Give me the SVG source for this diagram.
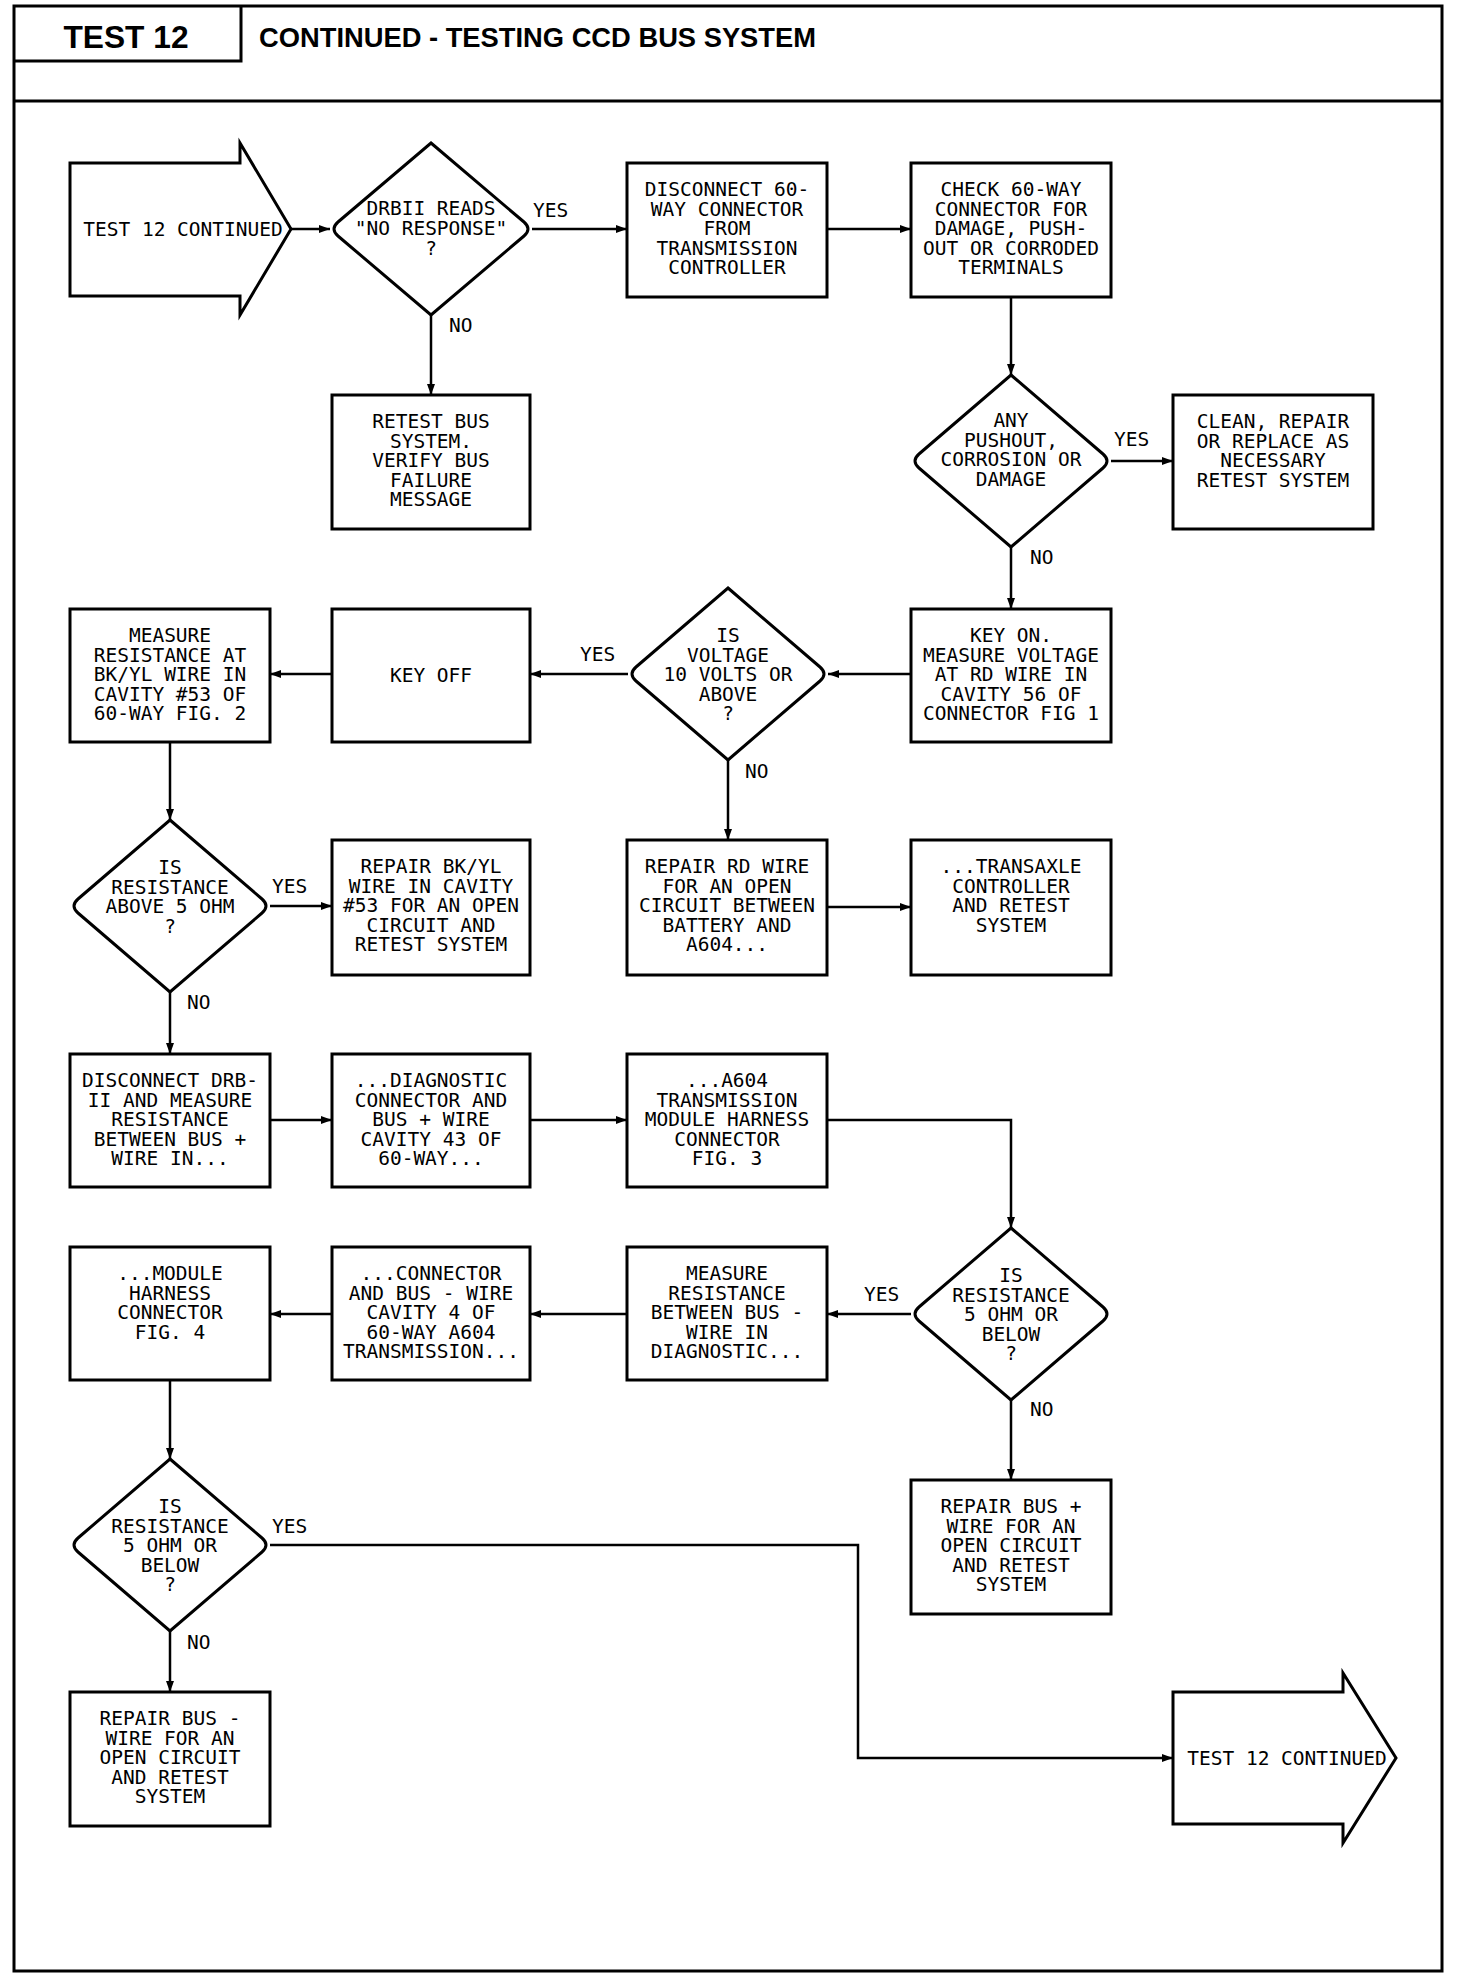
<svg xmlns="http://www.w3.org/2000/svg" width="1472" height="1984" viewBox="0 0 1472 1984">
<style>
.frame{fill:none;stroke:#000;stroke-width:3}
.box{fill:#fff;stroke:#000;stroke-width:3}
.ln{fill:none;stroke:#000;stroke-width:2.5;marker-end:url(#ah)}
.t{font-family:"DejaVu Sans Mono","Liberation Mono",monospace;font-size:19.5px;fill:#000;text-anchor:middle}
.lb{font-family:"DejaVu Sans Mono","Liberation Mono",monospace;font-size:19.5px;fill:#000}
.hd{font-family:"Liberation Sans",Arial,sans-serif;font-weight:bold;fill:#000}
</style>
<defs>
<marker id="ah" markerUnits="userSpaceOnUse" markerWidth="12" markerHeight="10" refX="11" refY="4" orient="auto">
<path d="M0,0 L11,4 L0,8 Z" fill="#000"/>
</marker>
</defs>
<rect width="1472" height="1984" fill="#fff"/>
<g id="header">
<rect class="frame" x="14" y="6" width="1428" height="1965"/>
<path class="frame" d="M241,6 V61 H14"/>
<line class="frame" x1="14" y1="101" x2="1442" y2="101"/>
<text class="hd" x="126" y="48" font-size="32" text-anchor="middle" textLength="125" lengthAdjust="spacingAndGlyphs">TEST 12</text>
<text class="hd" x="259" y="47" font-size="28" textLength="557" lengthAdjust="spacingAndGlyphs">CONTINUED - TESTING CCD BUS SYSTEM</text>
</g>
<g id="connectors">
<path class="ln" d="M291,229 H330"/>
<path class="ln" d="M532,229 H627"/>
<path class="ln" d="M827,229 H911"/>
<path class="ln" d="M431,315 V395"/>
<path class="ln" d="M1011,297 V375"/>
<path class="ln" d="M1111,461 H1173"/>
<path class="ln" d="M1011,547 V609"/>
<path class="ln" d="M911,674 H828"/>
<path class="ln" d="M628,674 H530"/>
<path class="ln" d="M332,674 H270"/>
<path class="ln" d="M728,760 V840"/>
<path class="ln" d="M827,907 H911"/>
<path class="ln" d="M170,742 V820"/>
<path class="ln" d="M270,906 H332"/>
<path class="ln" d="M170,992 V1054"/>
<path class="ln" d="M270,1120 H332"/>
<path class="ln" d="M530,1120 H627"/>
<path class="ln" d="M827,1120 H1011 V1228"/>
<path class="ln" d="M911,1314 H827"/>
<path class="ln" d="M627,1314 H530"/>
<path class="ln" d="M332,1314 H270"/>
<path class="ln" d="M1011,1400 V1480"/>
<path class="ln" d="M170,1380 V1459"/>
<path class="ln" d="M270,1545 H858 V1758 H1173"/>
<path class="ln" d="M170,1631 V1692"/>
<text class="lb" x="533" y="217">YES</text>
<text class="lb" x="449" y="332">NO</text>
<text class="lb" x="1114" y="446">YES</text>
<text class="lb" x="1030" y="564">NO</text>
<text class="lb" x="580" y="661">YES</text>
<text class="lb" x="745" y="778">NO</text>
<text class="lb" x="272" y="893">YES</text>
<text class="lb" x="187" y="1009">NO</text>
<text class="lb" x="864" y="1301">YES</text>
<text class="lb" x="1030" y="1416">NO</text>
<text class="lb" x="272" y="1533">YES</text>
<text class="lb" x="187" y="1649">NO</text>
</g>
<g id="n-start">
<polygon class="box" points="70,163 240,163 240,143 291,229 240,315 240,296 70,296"/>
<text class="t" x="183" y="236">TEST 12 CONTINUED</text>
</g>
<g id="n-d1">
<path class="box" d="M431,143 L524,222 Q532,229 524,236 L431,315 L338,236 Q330,229 338,222 Z"/>
<text class="t" x="431" y="215" font-size="19">DRBII READS</text>
<text class="t" x="431" y="235" font-size="19">"NO RESPONSE"</text>
<text class="t" x="431" y="255" font-size="19">?</text>
</g>
<g id="n-disconnect60">
<rect class="box" x="627" y="163" width="200" height="134"/>
<text class="t" x="727" y="196">DISCONNECT 60-</text>
<text class="t" x="727" y="215.6">WAY CONNECTOR</text>
<text class="t" x="727" y="235.2">FROM</text>
<text class="t" x="727" y="254.8">TRANSMISSION</text>
<text class="t" x="727" y="274.4">CONTROLLER</text>
</g>
<g id="n-check">
<rect class="box" x="911" y="163" width="200" height="134"/>
<text class="t" x="1011" y="196">CHECK 60-WAY</text>
<text class="t" x="1011" y="215.6">CONNECTOR FOR</text>
<text class="t" x="1011" y="235.2">DAMAGE, PUSH-</text>
<text class="t" x="1011" y="254.8">OUT OR CORRODED</text>
<text class="t" x="1011" y="274.4">TERMINALS</text>
</g>
<g id="n-retest">
<rect class="box" x="332" y="395" width="198" height="134"/>
<text class="t" x="431" y="428">RETEST BUS</text>
<text class="t" x="431" y="447.6">SYSTEM.</text>
<text class="t" x="431" y="467.2">VERIFY BUS</text>
<text class="t" x="431" y="486.8">FAILURE</text>
<text class="t" x="431" y="506.4">MESSAGE</text>
</g>
<g id="n-d2">
<path class="box" d="M1011,375 L1103,454 Q1111,461 1103,468 L1011,547 L919,468 Q911,461 919,454 Z"/>
<text class="t" x="1011" y="427">ANY</text>
<text class="t" x="1011" y="446.6">PUSHOUT,</text>
<text class="t" x="1011" y="466.2">CORROSION OR</text>
<text class="t" x="1011" y="485.8">DAMAGE</text>
</g>
<g id="n-clean">
<rect class="box" x="1173" y="395" width="200" height="134"/>
<text class="t" x="1273" y="428">CLEAN, REPAIR</text>
<text class="t" x="1273" y="447.6">OR REPLACE AS</text>
<text class="t" x="1273" y="467.2">NECESSARY</text>
<text class="t" x="1273" y="486.8">RETEST SYSTEM</text>
</g>
<g id="n-keyon">
<rect class="box" x="911" y="609" width="200" height="133"/>
<text class="t" x="1011" y="642">KEY ON.</text>
<text class="t" x="1011" y="661.6">MEASURE VOLTAGE</text>
<text class="t" x="1011" y="681.2">AT RD WIRE IN</text>
<text class="t" x="1011" y="700.8">CAVITY 56 OF</text>
<text class="t" x="1011" y="720.4">CONNECTOR FIG 1</text>
</g>
<g id="n-d3">
<path class="box" d="M728,588 L820,667 Q828,674 820,681 L728,760 L636,681 Q628,674 636,667 Z"/>
<text class="t" x="728" y="642">IS</text>
<text class="t" x="728" y="661.6">VOLTAGE</text>
<text class="t" x="728" y="681.2">10 VOLTS OR</text>
<text class="t" x="728" y="700.8">ABOVE</text>
<text class="t" x="728" y="720.4">?</text>
</g>
<g id="n-keyoff">
<rect class="box" x="332" y="609" width="198" height="133"/>
<text class="t" x="431" y="682">KEY OFF</text>
</g>
<g id="n-measure53">
<rect class="box" x="70" y="609" width="200" height="133"/>
<text class="t" x="170" y="642">MEASURE</text>
<text class="t" x="170" y="661.6">RESISTANCE AT</text>
<text class="t" x="170" y="681.2">BK/YL WIRE IN</text>
<text class="t" x="170" y="700.8">CAVITY #53 OF</text>
<text class="t" x="170" y="720.4">60-WAY FIG. 2</text>
</g>
<g id="n-d4">
<path class="box" d="M170,820 L262,899 Q270,906 262,913 L170,992 L78,913 Q70,906 78,899 Z"/>
<text class="t" x="170" y="874">IS</text>
<text class="t" x="170" y="893.6">RESISTANCE</text>
<text class="t" x="170" y="913.2">ABOVE 5 OHM</text>
<text class="t" x="170" y="932.8">?</text>
</g>
<g id="n-repairbkyl">
<rect class="box" x="332" y="840" width="198" height="135"/>
<text class="t" x="431" y="873">REPAIR BK/YL</text>
<text class="t" x="431" y="892.6">WIRE IN CAVITY</text>
<text class="t" x="431" y="912.2">#53 FOR AN OPEN</text>
<text class="t" x="431" y="931.8">CIRCUIT AND</text>
<text class="t" x="431" y="951.4">RETEST SYSTEM</text>
</g>
<g id="n-repairrd">
<rect class="box" x="627" y="840" width="200" height="135"/>
<text class="t" x="727" y="873">REPAIR RD WIRE</text>
<text class="t" x="727" y="892.6">FOR AN OPEN</text>
<text class="t" x="727" y="912.2">CIRCUIT BETWEEN</text>
<text class="t" x="727" y="931.8">BATTERY AND</text>
<text class="t" x="727" y="951.4">A604...</text>
</g>
<g id="n-transaxle">
<rect class="box" x="911" y="840" width="200" height="135"/>
<text class="t" x="1011" y="873">...TRANSAXLE</text>
<text class="t" x="1011" y="892.6">CONTROLLER</text>
<text class="t" x="1011" y="912.2">AND RETEST</text>
<text class="t" x="1011" y="931.8">SYSTEM</text>
</g>
<g id="n-disconnectdrb">
<rect class="box" x="70" y="1054" width="200" height="133"/>
<text class="t" x="170" y="1087">DISCONNECT DRB-</text>
<text class="t" x="170" y="1106.6">II AND MEASURE</text>
<text class="t" x="170" y="1126.2">RESISTANCE</text>
<text class="t" x="170" y="1145.8">BETWEEN BUS +</text>
<text class="t" x="170" y="1165.4">WIRE IN...</text>
</g>
<g id="n-diagnostic">
<rect class="box" x="332" y="1054" width="198" height="133"/>
<text class="t" x="431" y="1087">...DIAGNOSTIC</text>
<text class="t" x="431" y="1106.6">CONNECTOR AND</text>
<text class="t" x="431" y="1126.2">BUS + WIRE</text>
<text class="t" x="431" y="1145.8">CAVITY 43 OF</text>
<text class="t" x="431" y="1165.4">60-WAY...</text>
</g>
<g id="n-a604">
<rect class="box" x="627" y="1054" width="200" height="133"/>
<text class="t" x="727" y="1087">...A604</text>
<text class="t" x="727" y="1106.6">TRANSMISSION</text>
<text class="t" x="727" y="1126.2">MODULE HARNESS</text>
<text class="t" x="727" y="1145.8">CONNECTOR</text>
<text class="t" x="727" y="1165.4">FIG. 3</text>
</g>
<g id="n-d5">
<path class="box" d="M1011,1228 L1103,1307 Q1111,1314 1103,1321 L1011,1400 L919,1321 Q911,1314 919,1307 Z"/>
<text class="t" x="1011" y="1282">IS</text>
<text class="t" x="1011" y="1301.6">RESISTANCE</text>
<text class="t" x="1011" y="1321.2">5 OHM OR</text>
<text class="t" x="1011" y="1340.8">BELOW</text>
<text class="t" x="1011" y="1360.4">?</text>
</g>
<g id="n-measurebetween">
<rect class="box" x="627" y="1247" width="200" height="133"/>
<text class="t" x="727" y="1280">MEASURE</text>
<text class="t" x="727" y="1299.6">RESISTANCE</text>
<text class="t" x="727" y="1319.2">BETWEEN BUS -</text>
<text class="t" x="727" y="1338.8">WIRE IN</text>
<text class="t" x="727" y="1358.4">DIAGNOSTIC...</text>
</g>
<g id="n-connectorbus">
<rect class="box" x="332" y="1247" width="198" height="133"/>
<text class="t" x="431" y="1280">...CONNECTOR</text>
<text class="t" x="431" y="1299.6">AND BUS - WIRE</text>
<text class="t" x="431" y="1319.2">CAVITY 4 OF</text>
<text class="t" x="431" y="1338.8">60-WAY A604</text>
<text class="t" x="431" y="1358.4">TRANSMISSION...</text>
</g>
<g id="n-module">
<rect class="box" x="70" y="1247" width="200" height="133"/>
<text class="t" x="170" y="1280">...MODULE</text>
<text class="t" x="170" y="1299.6">HARNESS</text>
<text class="t" x="170" y="1319.2">CONNECTOR</text>
<text class="t" x="170" y="1338.8">FIG. 4</text>
</g>
<g id="n-repairbusplus">
<rect class="box" x="911" y="1480" width="200" height="134"/>
<text class="t" x="1011" y="1513">REPAIR BUS +</text>
<text class="t" x="1011" y="1532.6">WIRE FOR AN</text>
<text class="t" x="1011" y="1552.2">OPEN CIRCUIT</text>
<text class="t" x="1011" y="1571.8">AND RETEST</text>
<text class="t" x="1011" y="1591.4">SYSTEM</text>
</g>
<g id="n-d6">
<path class="box" d="M170,1459 L262,1538 Q270,1545 262,1552 L170,1631 L78,1552 Q70,1545 78,1538 Z"/>
<text class="t" x="170" y="1513">IS</text>
<text class="t" x="170" y="1532.6">RESISTANCE</text>
<text class="t" x="170" y="1552.2">5 OHM OR</text>
<text class="t" x="170" y="1571.8">BELOW</text>
<text class="t" x="170" y="1591.4">?</text>
</g>
<g id="n-repairbusminus">
<rect class="box" x="70" y="1692" width="200" height="134"/>
<text class="t" x="170" y="1725">REPAIR BUS -</text>
<text class="t" x="170" y="1744.6">WIRE FOR AN</text>
<text class="t" x="170" y="1764.2">OPEN CIRCUIT</text>
<text class="t" x="170" y="1783.8">AND RETEST</text>
<text class="t" x="170" y="1803.4">SYSTEM</text>
</g>
<g id="n-end">
<polygon class="box" points="1173,1692 1343,1692 1343,1673 1396,1758 1343,1843 1343,1824 1173,1824"/>
<text class="t" x="1287" y="1765">TEST 12 CONTINUED</text>
</g>
</svg>
